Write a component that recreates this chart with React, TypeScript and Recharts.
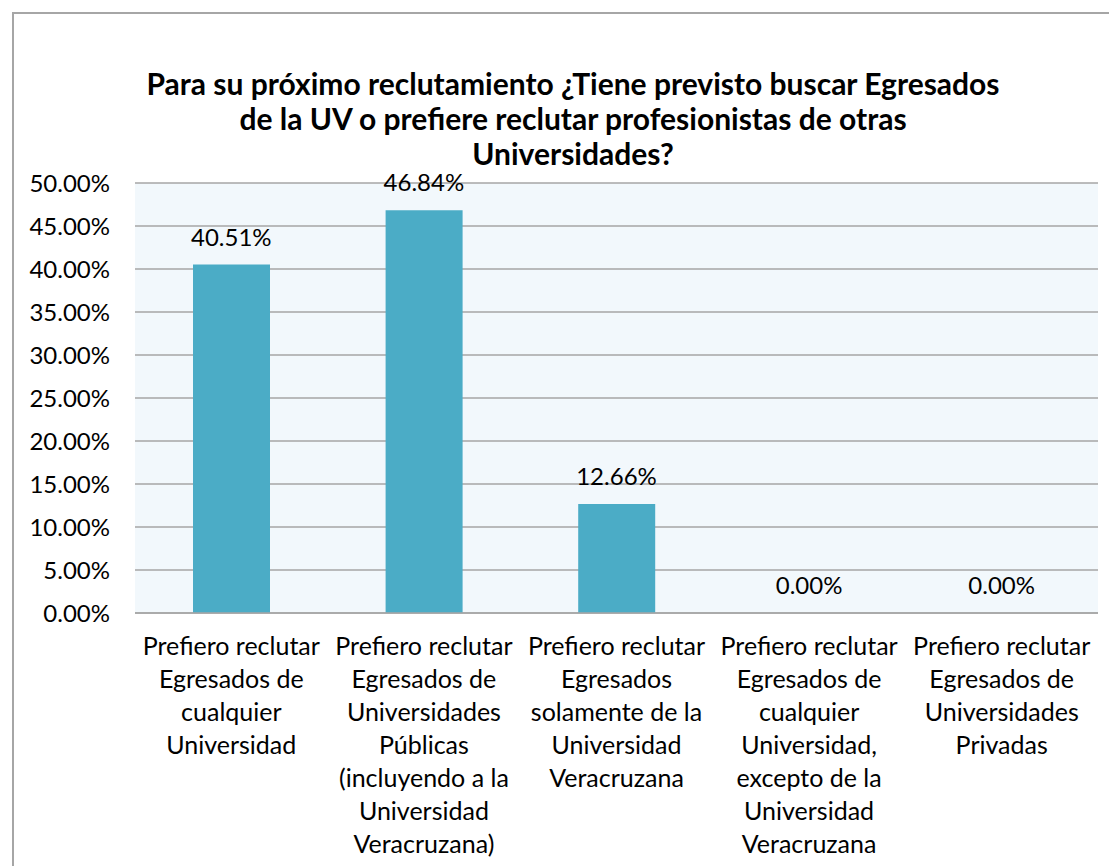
import React from 'react';
import { ComposedChart, Bar, Line, XAxis, YAxis, CartesianGrid, LabelList } from 'recharts';

const CATEGORIES = ['c1', 'c2', 'c3', 'c4', 'c5'];

const CATEGORY_LINES = [
  ['Prefiero reclutar', 'Egresados de', 'cualquier', 'Universidad'],
  ['Prefiero reclutar', 'Egresados de', 'Universidades', 'Públicas', '(incluyendo a la', 'Universidad', 'Veracruzana)'],
  ['Prefiero reclutar', 'Egresados', 'solamente de la', 'Universidad', 'Veracruzana'],
  ['Prefiero reclutar', 'Egresados de', 'cualquier', 'Universidad,', 'excepto de la', 'Universidad', 'Veracruzana'],
  ['Prefiero reclutar', 'Egresados de', 'Universidades', 'Privadas'],
];

const VALUES = [40.51, 46.84, 12.66, 0, 0];

const Y_TICKS = [0, 5, 10, 15, 20, 25, 30, 35, 40, 45, 50];

const TITLE_LINES = [
  'Para su próximo reclutamiento ¿Tiene previsto buscar Egresados',
  'de la UV o prefiere reclutar profesionistas de otras',
  'Universidades?',
];

const FONT = 'Lato, "Open Sans", sans-serif';

const data = CATEGORIES.map((key, i) => ({ key, value: VALUES[i] }));

const pct = (v: number) => `${Number(v).toFixed(2)}%`;

function CategoryTick(props: any) {
  const { x, y, payload } = props;
  const lines = CATEGORY_LINES[payload.index] || [];
  return (
    <g transform={`translate(${x},${y})`}>
      <text textAnchor="middle" fill="#000" fontSize={25} fontFamily={FONT}>
        {lines.map((line, i) => (
          <tspan key={i} x={0} dy={i === 0 ? 34 : 33}>{line}</tspan>
        ))}
      </text>
    </g>
  );
}

export default function App() {
  return (
    <div style={{ position: 'absolute', left: 0, top: 0, width: 1109, height: 866, background: '#fff', overflow: 'hidden' }}>
      {/* outer chart frame, only top and left edges show */}
      <div style={{ position: 'absolute', left: 12, top: 12, width: 1200, height: 1000, borderLeft: '2px solid #a6a6a6', borderTop: '2px solid #a6a6a6' }} />

      <div style={{ position: 'absolute', left: 0, top: 66, width: 1146, textAlign: 'center', fontFamily: FONT, fontWeight: 700, fontSize: 30, lineHeight: '35px', color: '#000' }}>
        {TITLE_LINES.map((t, i) => <div key={i}>{t}</div>)}
      </div>

      <div style={{ position: 'absolute', left: 0, top: 0 }}>
        <ComposedChart
          width={1109}
          height={866}
          data={data}
          margin={{ top: 183, right: 11, bottom: 0, left: 0 }}
        >
          <CartesianGrid vertical={false} stroke="#a6a6a6" strokeWidth={1.5} fill="#f2f8fc" />
          <XAxis
            dataKey="key"
            height={253}
            tick={<CategoryTick />}
            tickLine={false}
            axisLine={{ stroke: '#a6a6a6', strokeWidth: 1.5 }}
            interval={0}
          />
          <YAxis
            width={135}
            domain={[0, 50]}
            ticks={Y_TICKS}
            tickFormatter={pct}
            tick={{ fill: '#000', fontSize: 24, fontFamily: FONT }}
            tickLine={false}
            axisLine={false}
            tickSize={0}
            tickMargin={25}
          />
          <Bar dataKey="value" fill="#4bacc6" isAnimationActive={false} barSize={77} />
          {/* invisible series that carries the value labels, so zero bars get one too */}
          <Line dataKey="value" stroke="none" dot={false} activeDot={false} isAnimationActive={false} legendType="none">
            <LabelList
              dataKey="value"
              position="top"
              offset={19}
              formatter={pct}
              style={{ fill: '#000', fontSize: 24, fontFamily: FONT }}
            />
          </Line>
        </ComposedChart>
      </div>
    </div>
  );
}
